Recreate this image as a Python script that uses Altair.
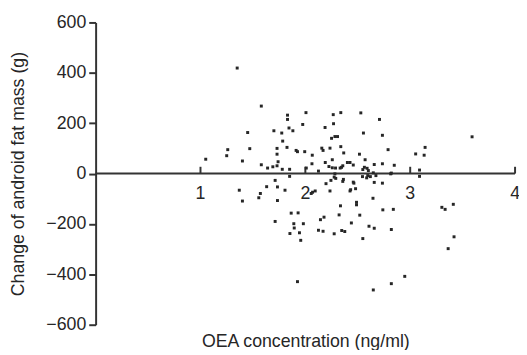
import altair as alt
import pandas as pd

# ---- data ----
oea_pos = [1.05, 1.25, 1.26, 1.35, 1.40, 1.45, 1.47, 1.58, 1.58, 1.64, 1.69, 1.70, 1.73, 1.73,
           1.74, 1.73, 1.775, 1.784, 1.78, 1.825, 1.83, 1.83, 1.844, 1.85, 1.881, 1.912, 1.925,
           1.975, 1.994, 2.006, 2.009, 2.066, 2.063, 2.125, 2.157, 2.169, 2.188, 2.19, 2.225,
           2.235, 2.250, 2.257, 2.257, 2.266, 2.269, 2.282, 2.288, 2.307, 2.332, 2.338, 2.338,
           2.357, 2.366, 2.401, 2.426, 2.457, 2.516, 2.529, 2.548, 2.554, 2.563, 2.570, 2.589,
           2.601, 2.657, 2.648, 2.707, 2.735, 2.735, 2.789, 2.820, 2.848, 3.052, 3.089, 3.133,
           3.142, 3.590, 2.345]
chg_pos = [57, 71, 95, 419, 50, 163, 99, 268, 35, 22, 27, 170, 100, 77,
           47, 31, 161, 129, 17, 104, 232, 215, 181, 17, 170, 92, 87,
           195, 87, 242, 22, 73, 39, 10, 101, 92, 183, 44, 28,
           101, 140, 55, 23, 234, 198, 147, 22, 147, 22, 242, 107,
           31, 82, 44, 44, 34, 77, 241, 16, 161, 25, 55, 21,
           12, 36, 3, 215, 152, 39, 95, 2, 33, 78, 14, 73,
           104, 146, 25]

oea_neg = [1.37, 1.40, 1.556, 1.571, 1.631, 1.712, 1.734, 1.734, 1.712, 1.806, 1.850, 2.056,
           2.069, 2.094, 1.865, 1.931, 1.890, 1.894, 1.981, 1.853, 1.944, 1.956, 1.925, 2.197,
           2.244, 2.290, 2.235, 2.363, 2.357, 2.457, 2.426, 2.479, 2.335, 2.488, 2.488, 2.322,
           2.144, 2.178, 2.125, 2.169, 2.275, 2.347, 2.376, 2.439, 2.519, 2.548, 2.645, 2.607,
           2.657, 2.739, 2.839, 2.820, 2.657, 2.735, 2.545, 2.585, 2.595, 2.620, 2.648, 2.820,
           2.948, 3.302, 3.333, 3.411, 3.418, 3.362, 3.089, 2.275, 2.463, 2.432, 2.673, 2.282,
           2.814]
chg_neg = [-66, -109, -96, -79, -52, -27, -53, -107, -190, -66, -11, -79,
           -74, -69, -157, -156, -199, -216, -199, -238, -235, -265, -429, -40,
           -27, -19, -69, -23, -31, -34, -69, -60, -128, -114, -124, -164,
           -183, -173, -225, -229, -239, -226, -230, -196, -165, -258, -98, -209,
           -217, -144, -142, -222, -35, -38, -12, -17, -8, -12, -462, -437,
           -408, -134, -142, -122, -251, -298, -11, -14, -38, -64, -8, -1,
           -1]

x_domain = [0, 4]
y_domain = [-600, 600]
x_ticks = [1, 2, 3, 4]
y_ticks = [-600, -400, -200, 0, 200, 400, 600]

x_title = "OEA concentration (ng/ml)"
y_title = "Change of android fat mass (g)"

# ---- tables ----
pts = pd.DataFrame({"oea": oea_pos + oea_neg, "change": chg_pos + chg_neg})
zero_df = pd.DataFrame({"x0": [x_domain[0]], "x1": [x_domain[1]], "y0": [0]})
TICK_LEN = 27  # tick length in data units (~7 px)
ticks_df = pd.DataFrame({"t": x_ticks, "lab": [str(t) for t in x_ticks],
                         "y0": [0] * len(x_ticks), "y1": [TICK_LEN] * len(x_ticks)})

FONT = "Liberation Sans"
INK = "#262626"
LINE = "#333333"
FS = 18

xs = alt.Scale(domain=x_domain, nice=False, zero=False)
ys = alt.Scale(domain=y_domain, nice=False)

points = alt.Chart(pts).mark_square(size=9, color=INK, opacity=1).encode(
    x=alt.X("oea:Q", scale=xs,
            axis=alt.Axis(title=x_title, labels=False, ticks=False, domain=False, grid=False,
                          minExtent=0, maxExtent=0, titlePadding=8)),
    y=alt.Y("change:Q", scale=ys,
            axis=alt.Axis(title=y_title, values=y_ticks, format="d", grid=False,
                          tickSize=7, tickWidth=2, tickColor=LINE,
                          domainWidth=2, domainColor=LINE,
                          labelPadding=3, minExtent=50, maxExtent=50, titlePadding=19)),
)

zero_line = alt.Chart(zero_df).mark_rule(color=LINE, strokeWidth=2).encode(
    x="x0:Q", x2="x1:Q", y="y0:Q"
)

xticks = alt.Chart(ticks_df).mark_rule(color=LINE, strokeWidth=2).encode(
    x="t:Q", y="y0:Q", y2="y1:Q"
)

xlabels = alt.Chart(ticks_df).mark_text(
    font=FONT, fontSize=FS, color=INK, baseline="alphabetic", align="center", dy=26
).encode(x="t:Q", y="y0:Q", text="lab:N")

chart = alt.layer(zero_line, xticks, xlabels, points).properties(
    width=426, height=307,
    autosize=alt.AutoSizeParams(type="none"),
    padding={"left": 89, "top": 12, "right": 4, "bottom": 23},
).configure_view(stroke=None).configure_axis(
    labelFont=FONT, labelFontSize=FS, labelColor=INK,
    titleFont=FONT, titleFontSize=FS, titleFontWeight="normal", titleColor=INK,
)

chart.save("out.html", embed_options={"renderer": "svg", "actions": False})
